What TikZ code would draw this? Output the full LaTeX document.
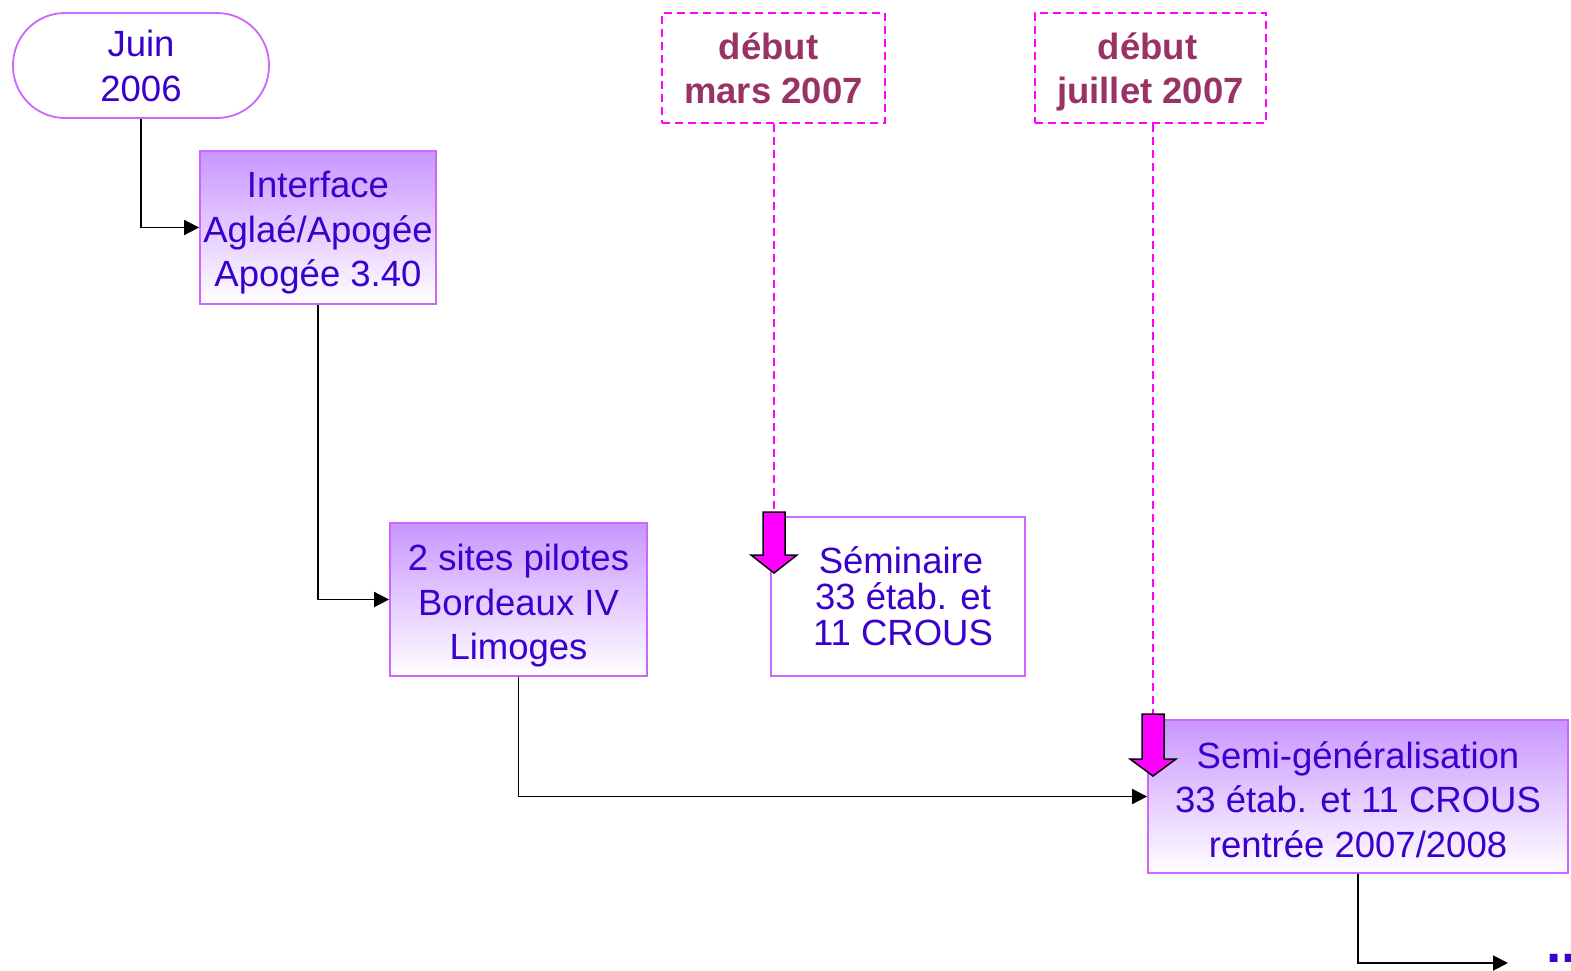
\documentclass[tikz,border=0pt]{standalone}
\usepackage{fontspec}
\setmainfont{Liberation Sans}
\usetikzlibrary{arrows.meta}
\definecolor{txtblue}{RGB}{58,0,204}
\definecolor{maroon}{RGB}{153,51,102}
\definecolor{bord}{RGB}{204,102,255}
\definecolor{gradtop}{RGB}{200,150,255}
\definecolor{pinkarrow}{RGB}{255,0,255}
\newcommand{\topstrut}[1]{\rule{0pt}{#1}}
\tikzset{
  stepbox/.style={draw=bord, line width=1.8pt, top color=gradtop, bottom color=white,
    text=txtblue, align=center, inner sep=0pt,
    font=\fontsize{36.5}{44.5}\selectfont},
  plainbox/.style={draw=bord, line width=1.8pt, fill=white,
    text=txtblue, align=center, inner sep=0pt,
    font=\fontsize{36.5}{36}\selectfont},
  datebox/.style={draw=pinkarrow, line width=1.8pt, dash pattern=on 8pt off 5pt,
    text=maroon, align=center, inner sep=0pt,
    font=\bfseries\fontsize{36.5}{44}\selectfont},
  conn/.style={draw=black, line width=1.9pt, -{Triangle[length=15pt,width=15pt]}},
  guide/.style={draw=pinkarrow, line width=1.8pt, dash pattern=on 8pt off 5pt},
  blockarrow/.style={fill=pinkarrow, draw=black, line width=1.5pt, line join=miter}
}
\begin{document}
\begin{tikzpicture}[x=1pt,y=-1pt]
\clip (0,0) rectangle (1571,970);
\fill[white] (0,0) rectangle (1571,970);

% nodes
\node[draw=bord, line width=1.8pt, rounded corners=52pt, fill=white, text=txtblue,
      align=center, inner sep=0pt, minimum width=256pt, minimum height=105pt,
      font=\fontsize{36.5}{45}\selectfont] (juin) at (141,65.5) {Juin\\2006};
\node[stepbox, minimum width=236pt, minimum height=153pt] (iface) at (318,227.5)
  {\topstrut{37pt}Interface\\Aglaé/Apogée\\Apogée 3.40};
\node[stepbox, minimum width=257pt, minimum height=153pt] (pilot) at (518.5,599.5)
  {\topstrut{39pt}2 sites pilotes\\Bordeaux IV\\Limoges};
\node[plainbox, minimum width=254pt, minimum height=159pt] (semin) at (898,596.5)
  {\hspace*{6pt}Séminaire\\\hspace*{10pt}33 étab. et\\\hspace*{10pt}11 CROUS};
\node[stepbox, minimum width=420pt, minimum height=153pt] (semi) at (1358,796.5)
  {\topstrut{33pt}Semi-généralisation\\33 étab. et 11 CROUS\\rentrée 2007/2008};
\node[datebox, minimum width=223pt, minimum height=110pt] (mars) at (773.5,68)
  {\hspace*{-10pt}début\\mars 2007};
\node[datebox, minimum width=231pt, minimum height=110pt] (juil) at (1150.5,68)
  {\topstrut{34pt}\hspace*{-6pt}début\\juillet 2007};
\node[text=txtblue, font=\bfseries\fontsize{55}{55}\selectfont, inner sep=0pt,
      anchor=base west] (more) at (1546,962) {...};

% connectors
\coordinate (endmore) at (1508,963);
\draw[conn] (juin.south) |- (iface.west);
\draw[conn] (iface.south) |- (pilot.west);
\draw[conn] (pilot.south) |- (semi.west);
\draw[conn] (semi.south) |- (endmore);

% block arrows
\coordinate (a1) at (774,512);
\coordinate (a2) at (1153,714);
\draw[guide] (mars.south -| a1) -- (a1);
\draw[guide] (juil.south -| a2) -- (a2);
\draw[blockarrow] (763,512) -- (785,512) -- (785,555) -- (797,555) -- (774,573)
  -- (751,555) -- (763,555) -- cycle;
\draw[blockarrow] (1142,714) -- (1164,714) -- (1164,759) -- (1176,759) -- (1153,776)
  -- (1130,759) -- (1142,759) -- cycle;
\end{tikzpicture}
\end{document}
